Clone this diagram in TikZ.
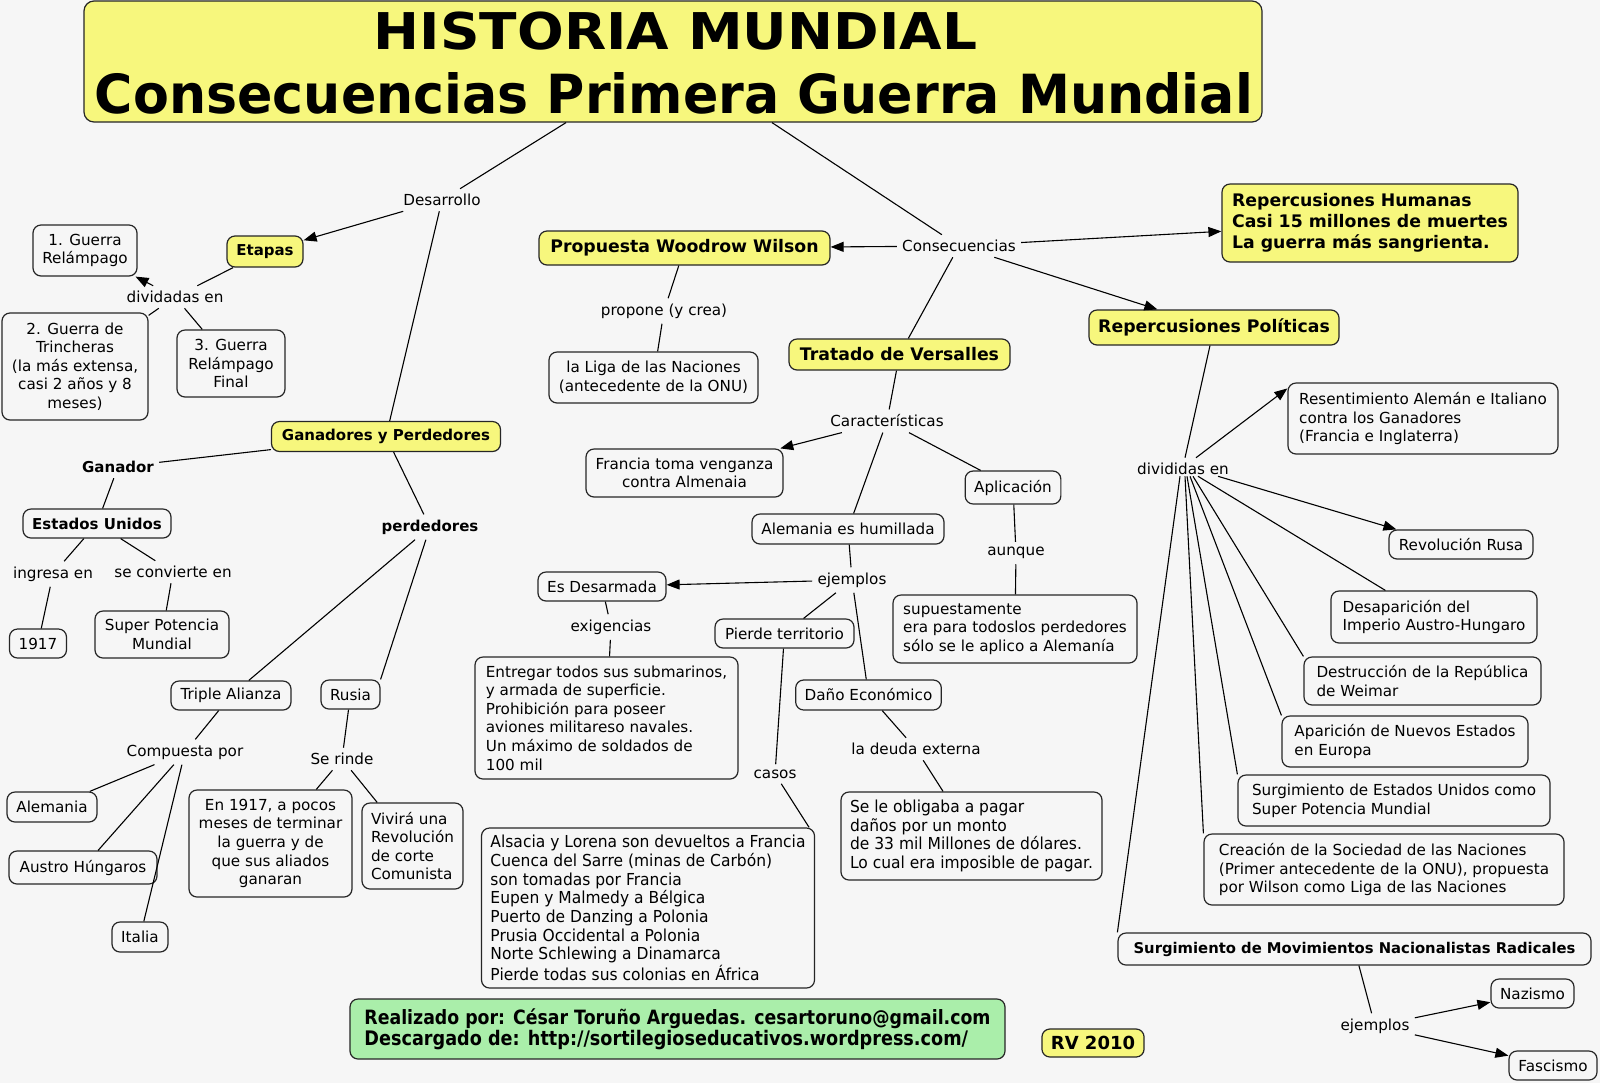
\documentclass[tikz,border=0pt]{standalone}
\usepackage{fontspec}
\usepackage{graphicx}
\setmainfont{DejaVu Sans}
\newfontfamily\condf{DejaVu Sans}[FakeStretch=0.88]
\newfontfamily\condg{DejaVu Sans}[FakeStretch=0.94]
\usetikzlibrary{arrows.meta,calc}
\definecolor{bg}{RGB}{246,246,246}
\definecolor{ylw}{RGB}{247,247,125}
\definecolor{grn}{RGB}{170,238,170}
\tikzset{
  box/.style={draw=black!85, line width=0.6pt, rounded corners=4pt, fill=bg, inner xsep=4.5pt, inner ysep=2pt, font=\fontsize{7.6}{9.3}\selectfont, align=center},
  ybox/.style={box, fill=ylw, font=\fontsize{8.65}{10.6}\selectfont\bfseries},
  sbox/.style={box, fill=ylw, font=\fontsize{7.5}{9.2}\selectfont\bfseries},
  lbox/.style={box, align=left},
  cbox/.style={box, align=left, font=\fontsize{8.25}{9.35}\selectfont\condg},
  sz/.style 2 args={minimum width=#1*0.5pt, minimum height=#2*0.5pt},
  lbl/.style={inner sep=2.5pt, font=\fontsize{7.6}{9.3}\selectfont},
  blbl/.style={inner sep=2.5pt, font=\fontsize{7.5}{9.2}\selectfont\bfseries},
  conn/.style={line width=0.55pt, draw=black},
  arr/.style={conn, -{Triangle[length=6.5pt,width=5pt]}},
}
\begin{document}
\begin{tikzpicture}[x=0.5pt,y=-0.5pt]
\useasboundingbox (0,0) rectangle (1600,1083);
\fill[bg] (0,0) rectangle (1600,1083);

% title
\node[box, fill=ylw, rounded corners=5pt, sz={1178}{121}] (title) at (673,61.5) {};
\node[anchor=base, inner sep=0] (title1) at (675.5,49.5) {\resizebox{301.5pt}{18.8pt}{\bfseries HISTORIA MUNDIAL}};
\node[anchor=base, inner sep=0] (title2) at (674,113) {\resizebox{579pt}{20.5pt}{\bfseries Consecuencias Primera Guerra Mundial}};

% left
\node[lbl] (desarrollo) at (442,200) {Desarrollo};
\node[sbox, sz={76}{31}] (etapas) at (265,251.5) {Etapas};
\node[box, sz={104}{51}] (g1) at (85,250.5) {1. Guerra\\Relámpago};
\node[lbl] (dividadas) at (175,297) {dividadas en};
\node[box, sz={146}{107}] (g2) at (75,366.5) {2. Guerra de\\Trincheras\\(la más extensa,\\casi 2 años y 8\\meses)};
\node[box, sz={108}{67}] (g3) at (231,363.5) {3. Guerra\\Relámpago\\Final};
\node[sbox, sz={229}{30}] (ganadores) at (386,436.5) {Ganadores y Perdedores};
\node[blbl] (ganador) at (118,467) {Ganador};
\node[box, sz={148}{29}, font=\fontsize{7.5}{9.2}\selectfont\bfseries] (eu) at (97,523.5) {Estados Unidos};
\node[lbl] (ingresa) at (53,574) {ingresa en};
\node[lbl] (seconv) at (173,572) {se convierte en};
\node[box, sz={57}{29}] (y1917) at (38,643.5) {1917};
\node[box, sz={134}{47}] (superpot) at (162,634.5) {Super Potencia\\Mundial};
\node[blbl] (perdedores) at (430,527) {perdedores};
\node[box, sz={120}{29}] (triple) at (231,695.5) {Triple Alianza};
\node[box, sz={59}{29}] (rusia) at (350.5,694.5) {Rusia};
\node[lbl] (compuesta) at (185,752) {Compuesta por};
\node[box, sz={90}{30}] (alemania) at (52,807) {Alemania};
\node[box, sz={148}{33}] (austro) at (83,867.5) {Austro Húngaros};
\node[box, sz={56}{30}] (italia) at (140,937) {Italia};
\node[lbl] (serinde) at (342,759) {Se rinde};
\node[box, sz={163}{107}] (en1917) at (270.5,843.5) {En 1917, a pocos\\meses de terminar\\la guerra y de\\que sus aliados\\ganaran};
\node[lbox, sz={101}{86}] (vivira) at (412.5,846) {Vivirá una\\Revolución\\de corte\\Comunista};

% center
\node[lbl] (consec) at (959,246) {Consecuencias};
\node[ybox, sz={291}{34}] (propuesta) at (684.5,248) {Propuesta Woodrow Wilson};
\node[lbl] (propone) at (664,311) {propone (y crea)};
\node[box, sz={209}{51}] (liga) at (653.5,377.5) {la Liga de las Naciones\\(antecedente de la ONU)};
\node[ybox, sz={221}{31}] (tratado) at (899.5,354.5) {Tratado de Versalles};
\node[lbl] (caract) at (887,421) {Características};
\node[box, sz={197}{48}] (francia) at (684.5,473) {Francia toma venganza\\contra Almenaia};
\node[box, sz={94}{33}] (aplic) at (1013,487.5) {Aplicación};
\node[lbl] (aunque) at (1016,553) {aunque};
\node[lbox, sz={244}{68}] (supuesta) at (1015,629) {supuestamente\\era para todoslos perdedores\\sólo se le aplico a Alemanía};
\node[box, sz={192}{30}] (humillada) at (848,529) {Alemania es humillada};
\node[lbl] (ejemplos) at (852,580) {ejemplos};
\node[box, sz={128}{29}] (esdes) at (602,586.5) {Es Desarmada};
\node[lbl] (exig) at (611,627) {exigencias};
\node[lbox, sz={263}{122}] (entregar) at (606.5,718) {Entregar todos sus submarinos,\\y armada de superficie.\\Prohibición para poseer\\aviones militareso navales.\\Un máximo de soldados de\\100 mil};
\node[box, sz={139}{29}] (pierde) at (784.5,633.5) {Pierde territorio};
\node[box, sz={145}{30}] (dano) at (868.5,695) {Daño Económico};
\node[lbl] (casos) at (775,774) {casos};
\node[cbox, sz={332}{160}] (alsacia) at (648,908) {Alsacia y Lorena son devueltos a Francia\\Cuenca del Sarre (minas de Carbón)\\son tomadas por Francia\\Eupen y Malmedy a Bélgica\\Puerto de Danzing a Polonia\\Prusia Occidental a Polonia\\Norte Schlewing a Dinamarca\\Pierde todas sus colonias en África};
\node[lbl] (deuda) at (916,749) {la deuda externa};
\node[cbox, sz={261}{88}] (obliga) at (971.5,836) {Se le obligaba a pagar\\daños por un monto\\de 33 mil Millones de dólares.\\Lo cual era imposible de pagar.};

% right
\node[ybox, align=left, sz={296}{78}] (humanas) at (1370,223) {Repercusiones Humanas\\Casi 15 millones de muertes\\La guerra más sangrienta.};
\node[ybox, sz={250}{35}] (politicas) at (1214,327.5) {Repercusiones Políticas};
\node[lbl] (divid) at (1183,469) {divididas en};
\node[lbox, sz={270}{71}] (resent) at (1423,418.5) {Resentimiento Alemán e Italiano\\contra los Ganadores\\(Francia e Inglaterra)};
\node[box, sz={144}{29}] (revrusa) at (1461,544.5) {Revolución Rusa};
\node[lbox, sz={206}{52}] (desap) at (1434,617) {Desaparición del\\Imperio Austro-Hungaro};
\node[lbox, sz={237}{48}] (destr) at (1422.5,681) {Destrucción de la República\\de Weimar};
\node[lbox, sz={246}{51}] (aparic) at (1405,741.5) {Aparición de Nuevos Estados\\en Europa};
\node[lbox, sz={312}{51}] (surgeu) at (1394,800.5) {Surgimiento de Estados Unidos como\\Super Potencia Mundial};
\node[lbox, sz={360}{71}] (creacion) at (1384,869.5) {Creación de la Sociedad de las Naciones\\(Primer antecedente de la ONU), propuesta\\por Wilson como Liga de las Naciones};
\node[box, sz={473}{32}, font=\fontsize{7.4}{9}\selectfont\bfseries] (movim) at (1354.5,949) {Surgimiento de Movimientos Nacionalistas Radicales};
\node[lbl] (ejemplos2) at (1375,1026) {ejemplos};
\node[box, sz={83}{29}] (nazismo) at (1532.5,993.5) {Nazismo};
\node[box, sz={88}{29}] (fascismo) at (1553,1065.5) {Fascismo};

% bottom
\node[box, fill=grn, align=left, sz={655}{60}, inner xsep=6pt, font=\fontsize{8}{10.5}\selectfont\condf\bfseries] (credits) at (677.5,1029) {\resizebox{313pt}{!}{Realizado por: César Toruño Arguedas. cesartoruno@gmail.com}\\\resizebox{301.8pt}{!}{Descargado de: http://sortilegioseducativos.wordpress.com/}};
\node[box, fill=ylw, sz={100}{28}, font=\fontsize{9}{11}\selectfont\bfseries] (rv) at (1093,1043) {RV 2010};

% connectors left
\draw[conn] ($(title.south)+(-107,0)$) -- (desarrollo);
\draw[arr] (desarrollo) -- (etapas);
\draw[conn] (desarrollo) -- (ganadores);
\draw[conn] (etapas) -- (dividadas);
\draw[arr] (dividadas) -- (g1);
\draw[conn] (dividadas) -- (g2);
\draw[conn] (dividadas) -- (g3);
\draw[conn] (ganadores) -- (ganador);
\draw[conn] (ganador) -- (eu);
\draw[conn] (eu) -- (ingresa);
\draw[conn] (ingresa) -- (y1917);
\draw[conn] (eu) -- (seconv);
\draw[conn] (seconv) -- (superpot);
\draw[conn] (ganadores) -- (perdedores);
\draw[conn] (perdedores) -- (triple);
\draw[conn] (perdedores) -- (rusia.north east);
\draw[conn] (triple) -- (compuesta);
\draw[conn] (compuesta) -- (alemania);
\draw[conn] (compuesta) -- (austro);
\draw[conn] (compuesta) -- (italia);
\draw[conn] (rusia) -- (serinde);
\draw[conn] (serinde) -- (en1917);
\draw[conn] (serinde) -- (vivira);

% connectors center
\draw[conn] ($(title.south)+(99,0)$) -- (consec);
\draw[arr] (consec) -- (propuesta);
\draw[arr] (consec) -- (humanas);
\draw[arr] (consec) -- (politicas);
\draw[conn] (consec) -- (tratado);
\draw[conn] (propuesta) -- (propone);
\draw[conn] (propone) -- (liga);
\draw[conn] (tratado) -- (caract);
\draw[arr] (caract) -- (francia);
\draw[conn] (caract) -- (humillada);
\draw[conn] (caract) -- (aplic);
\draw[conn] (aplic) -- (aunque);
\draw[conn] (aunque) -- (supuesta);
\draw[conn] (humillada) -- (ejemplos);
\draw[arr] (ejemplos) -- (esdes);
\draw[conn] (ejemplos) -- (pierde);
\draw[conn] (ejemplos) -- (dano);
\draw[conn] (esdes) -- (exig);
\draw[conn] (exig) -- (entregar);
\draw[conn] (pierde) -- (casos);
\draw[conn] (casos) -- ($(alsacia.north east)+(-6,0)$);
\draw[conn] (dano) -- (deuda);
\draw[conn] (deuda) -- (obliga);

% connectors right
\draw[conn] (politicas) -- ($(divid.north)+(2,0)$);
\draw[arr] ($(divid.north)+(13,0)$) -- ($(resent.north west)+(0,6)$);
\draw[arr] ($(divid.south)+(35,-4)$) -- ($(revrusa.north west)+(8,0)$);
\draw[conn] ($(divid.south)+(15,-4)$) -- ($(desap.north west)+(55,0)$);
\draw[conn] ($(divid.south)+(10,-4)$) -- (destr.north west);
\draw[conn] ($(divid.south)+(7,-4)$) -- (aparic.north west);
\draw[conn] ($(divid.south)+(4,-4)$) -- (surgeu.north west);
\draw[conn] ($(divid.south)+(2,-4)$) -- (creacion.north west);
\draw[conn] ($(divid.south)+(-3,-4)$) -- (movim.north west);
\draw[conn] (movim) -- (ejemplos2);
\draw[arr] (ejemplos2) -- (nazismo);
\draw[arr] (ejemplos2) -- (fascismo);
\end{tikzpicture}
\end{document}
